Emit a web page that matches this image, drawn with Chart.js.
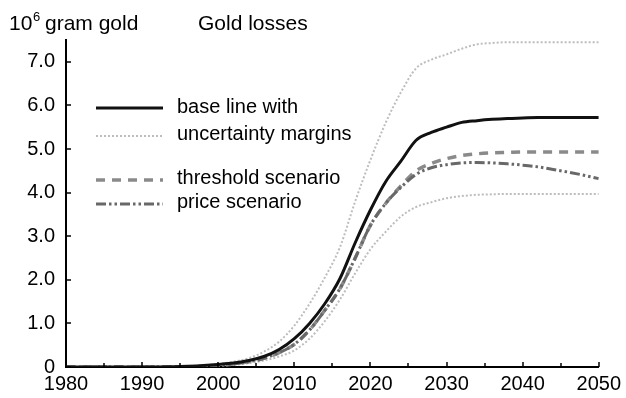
<!DOCTYPE html>
<html>
<head>
<meta charset="utf-8">
<title>Gold losses</title>
<script src="https://cdn.jsdelivr.net/npm/chart.js@4/dist/chart.umd.min.js"></script>
<style>
    html, body { margin: 0; padding: 0; background: #fff; }
    #wrap { position: relative; width: 626px; height: 398px; }
</style>
</head>
<body>
<div id="wrap"><canvas id="goldChart"></canvas></div>
<script>
// Anos e séries (10^6 grama de ouro)
const years = [1980, 1985, 1990, 1995, 2000, 2002, 2004, 2006, 2008, 2010, 2012, 2014, 2016, 2018, 2020,
    2022, 2024, 2026, 2028, 2030, 2032, 2034, 2036, 2038, 2040, 2042, 2044, 2046, 2048, 2050];

const baseLine = [0, 0, 0, 0.01, 0.06, 0.09, 0.15, 0.24, 0.4, 0.65, 1.0, 1.45, 2.03, 2.85, 3.6,
    4.25, 4.72, 5.2, 5.38, 5.5, 5.61, 5.65, 5.68, 5.7, 5.71, 5.72, 5.72, 5.72, 5.72, 5.72];

const upperMargin = [0, 0, 0, 0.01, 0.07, 0.12, 0.2, 0.35, 0.58, 0.95, 1.45, 2.05, 2.75, 3.8, 4.75,
    5.6, 6.3, 6.85, 7.05, 7.17, 7.3, 7.4, 7.43, 7.45, 7.45, 7.45, 7.45, 7.45, 7.45, 7.45];

const lowerMargin = [0, 0, 0, 0, 0.03, 0.05, 0.09, 0.15, 0.24, 0.38, 0.65, 1.05, 1.55, 2.15, 2.7,
    3.1, 3.45, 3.67, 3.78, 3.87, 3.92, 3.95, 3.96, 3.97, 3.97, 3.97, 3.97, 3.97, 3.97, 3.97];

const thresholdScenario = [0, 0, 0, 0, 0.04, 0.07, 0.12, 0.2, 0.33, 0.52, 0.85, 1.3, 1.8, 2.5, 3.25,
    3.75, 4.15, 4.5, 4.67, 4.78, 4.85, 4.89, 4.91, 4.92, 4.93, 4.93, 4.93, 4.93, 4.93, 4.93];

const priceScenario = [0, 0, 0, 0, 0.04, 0.07, 0.12, 0.2, 0.33, 0.52, 0.85, 1.3, 1.8, 2.5, 3.25,
    3.75, 4.12, 4.42, 4.57, 4.64, 4.68, 4.69, 4.68, 4.66, 4.63, 4.59, 4.53, 4.47, 4.4, 4.32];

const yTicks = [0, 1, 2, 3, 4, 5, 6, 7];
const xTicks = [1980, 1990, 2000, 2010, 2020, 2030, 2040, 2050];

const FONT = '"Liberation Sans", Arial, Helvetica, sans-serif';

// Estilos das linhas (também usados na legenda)
const styles = {
    base:      { color: '#111111', width: 3,   dash: [] },
    margin:    { color: '#bdbdbd', width: 2,   dash: [2, 2] },
    threshold: { color: '#8a8a8a', width: 3.5, dash: [9, 7] },
    price:     { color: '#686868', width: 3,   dash: [10, 3, 2.5, 3, 2.5, 3] }
};

function points(values) {
    return years.map((yr, i) => ({ x: yr, y: values[i] }));
}

function lineDataset(label, values, st) {
    return {
        label: label,
        data: points(values),
        borderColor: st.color,
        borderWidth: st.width,
        borderDash: st.dash,
        pointRadius: 0,
        fill: false,
        cubicInterpolationMode: 'monotone',
        borderCapStyle: 'butt'
    };
}

// Marcas dos eixos voltadas para dentro + título e unidade
const axisDecor = {
    id: 'axisDecor',
    afterDraw(chart) {
        const ctx = chart.ctx;
        const xs = chart.scales.x;
        const ys = chart.scales.y;
        const area = chart.chartArea;
        ctx.save();
        ctx.strokeStyle = '#000';
        ctx.lineWidth = 1.5;
        ctx.setLineDash([]);
        for (let yr = 1980; yr <= 2050; yr += 5) {
            const px = Math.round(xs.getPixelForValue(yr));
            const len = yr % 10 === 0 ? 5 : 4;
            ctx.beginPath();
            ctx.moveTo(px, area.bottom);
            ctx.lineTo(px, area.bottom - len);
            ctx.stroke();
        }
        yTicks.forEach(v => {
            const py = Math.round(ys.getPixelForValue(v));
            ctx.beginPath();
            ctx.moveTo(area.left, py);
            ctx.lineTo(area.left + 5, py);
            ctx.stroke();
        });

        // unidade: 10^6 gram gold
        ctx.fillStyle = '#000';
        ctx.textBaseline = 'alphabetic';
        ctx.textAlign = 'left';
        ctx.font = '21px ' + FONT;
        ctx.fillText('10', 9, 30);
        ctx.font = '13px ' + FONT;
        ctx.fillText('6', 33, 21);
        ctx.font = '21px ' + FONT;
        ctx.fillText('gram gold', 45, 30);
        ctx.fillText('Gold losses', 198, 30);
        ctx.restore();
    }
};

// Legenda desenhada dentro da área do gráfico
const legendItems = [
    { text: 'base line with', style: styles.base, y: 108 },
    { text: 'uncertainty margins', style: styles.margin, y: 136 },
    { text: 'threshold scenario', style: styles.threshold, y: 180 },
    { text: 'price scenario', style: styles.price, y: 204 }
];

const insideLegend = {
    id: 'insideLegend',
    afterDraw(chart) {
        const ctx = chart.ctx;
        ctx.save();
        legendItems.forEach(item => {
            ctx.strokeStyle = item.style.color;
            ctx.lineWidth = item.style.width;
            ctx.setLineDash(item.style.dash);
            ctx.beginPath();
            ctx.moveTo(96, item.y);
            ctx.lineTo(163, item.y);
            ctx.stroke();
        });
        ctx.setLineDash([]);
        ctx.fillStyle = '#000';
        ctx.font = '20px ' + FONT;
        ctx.textAlign = 'left';
        ctx.textBaseline = 'middle';
        ctx.fillText('base line with', 177, 107);
        ctx.fillText('uncertainty margins', 177, 134);
        ctx.fillText('threshold scenario', 177, 178);
        ctx.fillText('price scenario', 177, 202);
        ctx.restore();
    }
};

function initializeGoldChart() {
    const ctx = document.getElementById('goldChart');
    if (!ctx) return;

    new Chart(ctx, {
        type: 'line',
        data: {
            datasets: [
                lineDataset('base line', baseLine, styles.base),
                lineDataset('price scenario', priceScenario, styles.price),
                lineDataset('threshold scenario', thresholdScenario, styles.threshold),
                lineDataset('upper margin', upperMargin, styles.margin),
                lineDataset('lower margin', lowerMargin, styles.margin)
            ]
        },
        options: {
            responsive: true,
            maintainAspectRatio: false,
            animation: false,
            layout: { padding: { top: 40, right: 27, left: 0, bottom: 0 } },
            plugins: {
                legend: { display: false },
                tooltip: { enabled: false }
            },
            scales: {
                x: {
                    type: 'linear',
                    min: 1980,
                    max: 2050,
                    afterBuildTicks: scale => { scale.ticks = xTicks.map(v => ({ value: v })); },
                    afterFit: scale => { scale.height = 31; },
                    grid: { display: false, drawTicks: false },
                    border: { display: true, color: '#000', width: 2 },
                    ticks: {
                        color: '#000',
                        font: { family: FONT, size: 20 },
                        padding: 5,
                        maxRotation: 0,
                        autoSkip: false,
                        callback: v => String(v)
                    }
                },
                y: {
                    min: 0,
                    max: 7.5,
                    afterBuildTicks: scale => { scale.ticks = yTicks.map(v => ({ value: v })); },
                    afterFit: scale => { scale.width = 66; },
                    grid: { display: false, drawTicks: false },
                    border: { display: true, color: '#000', width: 2 },
                    ticks: {
                        color: '#000',
                        font: { family: FONT, size: 20 },
                        padding: 11,
                        callback: v => v === 0 ? '0' : v.toFixed(1)
                    }
                }
            }
        },
        plugins: [axisDecor, insideLegend]
    });
}

document.addEventListener('DOMContentLoaded', initializeGoldChart);
</script>
</body>
</html>
